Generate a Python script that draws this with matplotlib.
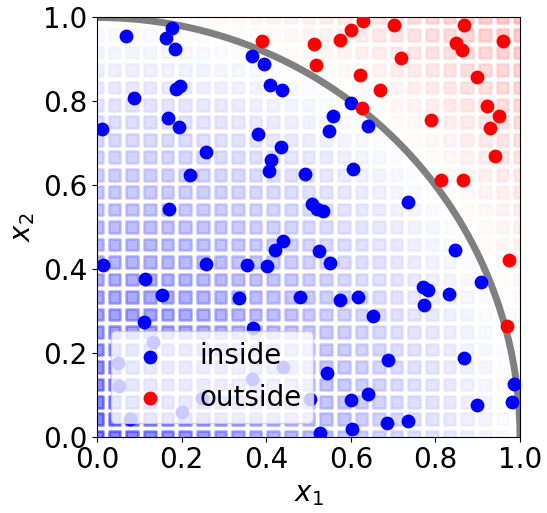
import numpy as np
import matplotlib
matplotlib.use('Agg')
import matplotlib.pyplot as plt

# points (x1, x2)
inside_x1 = [0.069, 0.177, 0.163, 0.184, 0.367, 0.396, 0.409, 0.438, 0.187, 0.196,
             0.088, 0.013, 0.168, 0.193, 0.380, 0.435, 0.412, 0.406, 0.257, 0.220,
             0.492, 0.171, 0.508, 0.519, 0.534, 0.600, 0.559, 0.549, 0.641, 0.606,
             0.736, 0.846, 0.526, 0.551, 0.908, 0.770, 0.783, 0.833, 0.480, 0.575,
             0.618, 0.772, 0.653, 0.689, 0.868, 0.544, 0.987, 0.641, 0.600, 0.980,
             0.898, 0.686, 0.736, 0.604, 0.527, 0.015, 0.258, 0.354, 0.401, 0.421,
             0.439, 0.113, 0.153, 0.336, 0.112, 0.368, 0.133, 0.050, 0.053, 0.078,
             0.202, 0.248, 0.367, 0.440, 0.503]
inside_x2 = [0.957, 0.975, 0.951, 0.926, 0.909, 0.888, 0.840, 0.828, 0.830, 0.836,
             0.809, 0.734, 0.761, 0.739, 0.721, 0.690, 0.659, 0.633, 0.679, 0.625,
             0.626, 0.544, 0.555, 0.542, 0.538, 0.796, 0.764, 0.730, 0.742, 0.639,
             0.559, 0.446, 0.442, 0.414, 0.368, 0.356, 0.349, 0.341, 0.334, 0.325,
             0.333, 0.313, 0.289, 0.182, 0.188, 0.153, 0.126, 0.103, 0.088, 0.084,
             0.076, 0.032, 0.037, 0.018, 0.010, 0.410, 0.412, 0.410, 0.408, 0.446,
             0.466, 0.377, 0.337, 0.330, 0.274, 0.259, 0.225, 0.176, 0.120, 0.042,
             0.060, 0.092, 0.137, 0.166, 0.090]

outside_x1 = [0.391, 0.628, 0.702, 0.868, 0.600, 0.574, 0.513, 0.848, 0.864, 0.960,
              0.719, 0.518, 0.622, 0.898, 0.670, 0.627, 0.921, 0.951, 0.929, 0.790,
              0.941, 0.813, 0.865, 0.975, 0.970]
outside_x2 = [0.945, 0.991, 0.981, 0.983, 0.969, 0.947, 0.936, 0.938, 0.922, 0.943,
              0.904, 0.886, 0.862, 0.858, 0.827, 0.783, 0.788, 0.764, 0.737, 0.755,
              0.669, 0.613, 0.613, 0.421, 0.263]

# background grid
grid = np.linspace(0, 1, 25)
G1, G2 = np.meshgrid(grid, grid)
dist = np.sqrt(G1**2 + G2**2)

fig = plt.figure(figsize=(5.47, 5.13), dpi=100)
ax = fig.add_axes([0.1773, 0.1487, 0.7733, 0.8172])

ax.scatter(G1.ravel(), G2.ravel(), c=dist.ravel(), cmap='bwr', vmin=0, vmax=2,
           marker='s', s=70, linewidths=1.8, alpha=0.5, zorder=1)

# quart de cercle
theta = np.linspace(0, np.pi / 2, 200)
ax.plot(np.cos(theta), np.sin(theta), color='gray', linewidth=5, zorder=2)

ax.scatter(inside_x1, inside_x2, color='blue', s=80, label='inside', zorder=3)
ax.scatter(outside_x1, outside_x2, color='red', s=80, label='outside', zorder=3)

ax.set_xlim(0, 1)
ax.set_ylim(0, 1)
ax.set_xticks([0, 0.2, 0.4, 0.6, 0.8, 1.0])
ax.set_yticks([0, 0.2, 0.4, 0.6, 0.8, 1.0])
ax.tick_params(labelsize=20)
ax.set_xlabel('$x_1$', fontsize=20)
ax.set_ylabel('$x_2$', fontsize=20)
ax.legend(loc='lower left', fontsize=20)

plt.savefig('out.png', dpi=100)
plt.close()
